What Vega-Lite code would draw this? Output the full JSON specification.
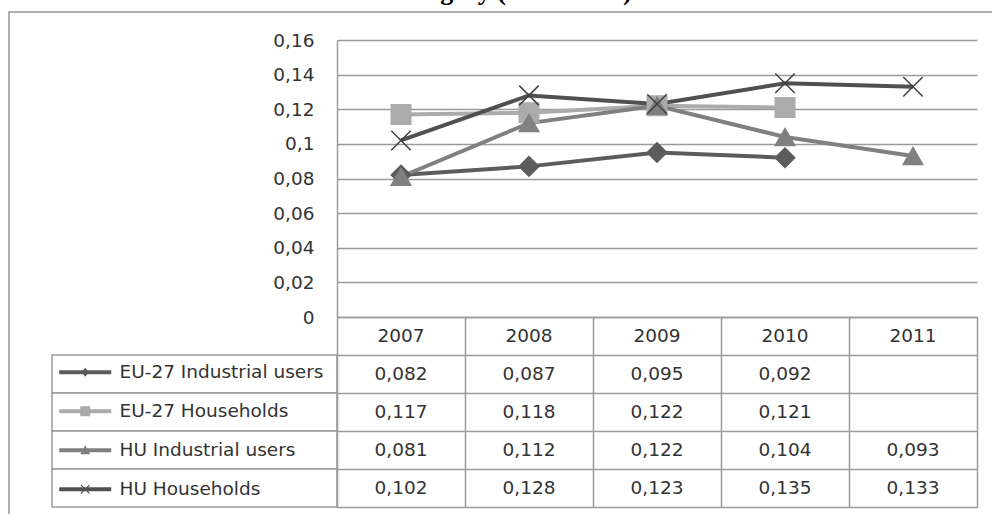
{
  "$schema": "https://vega.github.io/schema/vega-lite/v6.json",
  "padding": {"left": 9, "top": -21, "right": 0, "bottom": 0},
  "background": "white",
  "title": {
    "text": "Hungary (EUR/kWh)",
    "anchor": "start", "dx": 382, "offset": -14, "baseline": "alphabetic",
    "font": "Liberation Serif", "fontSize": 26, "fontWeight": "bold", "color": "#000000"
  },
  "config": {
    "locale": {"number": {"decimal": ",", "thousands": " ", "grouping": [3], "currency": ["", " €"]}},
    "font": "DejaVu Sans",
    "view": {"stroke": null}
  },
  "datasets": {
    "prices": [
      {"series": "EU-27 Industrial users", "year": 2007, "value": 0.082},
      {"series": "EU-27 Industrial users", "year": 2008, "value": 0.087},
      {"series": "EU-27 Industrial users", "year": 2009, "value": 0.095},
      {"series": "EU-27 Industrial users", "year": 2010, "value": 0.092},
      {"series": "EU-27 Households", "year": 2007, "value": 0.117},
      {"series": "EU-27 Households", "year": 2008, "value": 0.118},
      {"series": "EU-27 Households", "year": 2009, "value": 0.122},
      {"series": "EU-27 Households", "year": 2010, "value": 0.121},
      {"series": "HU Industrial users", "year": 2007, "value": 0.081},
      {"series": "HU Industrial users", "year": 2008, "value": 0.112},
      {"series": "HU Industrial users", "year": 2009, "value": 0.122},
      {"series": "HU Industrial users", "year": 2010, "value": 0.104},
      {"series": "HU Industrial users", "year": 2011, "value": 0.093},
      {"series": "HU Households", "year": 2007, "value": 0.102},
      {"series": "HU Households", "year": 2008, "value": 0.128},
      {"series": "HU Households", "year": 2009, "value": 0.123},
      {"series": "HU Households", "year": 2010, "value": 0.135},
      {"series": "HU Households", "year": 2011, "value": 0.133}
    ]
  },
  "columns": 2,
  "spacing": 0,
  "bounds": "flush",
  "align": "each",
  "resolve": {
    "scale": {"x": "independent", "y": "independent", "color": "independent", "shape": "independent", "stroke": "independent"},
    "legend": {"color": "independent", "shape": "independent", "stroke": "independent"}
  },
  "concat": [
    {
      "width": 285,
      "height": 277,
      "data": {"name": "prices"},
      "transform": [{"filter": "false"}],
      "mark": "point",
      "encoding": {
        "color": {
          "datum": 0, "type": "quantitative",
          "scale": {"domain": [0, 1], "range": ["rgba(255,255,255,0)", "rgba(255,255,255,0)"]},
          "legend": {
            "title": null, "orient": "none", "direction": "vertical",
            "legendX": -43, "legendY": -28, "padding": 0,
            "gradientThickness": 996, "gradientLength": 516,
            "gradientStrokeColor": "#8f8f8f", "gradientStrokeWidth": 2,
            "labelExpr": "''", "labelOpacity": 0, "labelFontSize": 1
          }
        }
      }
    },
    {
      "width": 640,
      "height": 277,
      "data": {"name": "prices"},
      "encoding": {
        "x": {"field": "year", "type": "ordinal", "axis": null, "scale": {"type": "point", "padding": 0.5}},
        "y": {
          "field": "value", "type": "quantitative",
          "scale": {"domain": [0, 0.16], "nice": false},
          "axis": {
            "title": null, "values": [0, 0.02, 0.04, 0.06, 0.08, 0.1, 0.12, 0.14, 0.16],
            "format": "~g", "ticks": false, "labelPadding": 23,
            "labelFont": "DejaVu Sans", "labelFontSize": 18.5, "labelColor": "#333333",
            "domainColor": "#9a9a9a", "domainWidth": 1.5,
            "grid": true, "gridColor": "#9a9a9a", "gridWidth": 1.5
          }
        },
        "color": {
          "field": "series", "type": "nominal",
          "scale": {
            "domain": ["EU-27 Industrial users", "EU-27 Households", "HU Industrial users", "HU Households"],
            "range": ["#5c5c5c", "#ababab", "#808080", "#505050"]
          },
          "legend": null
        }
      },
      "layer": [
        {"mark": {"type": "line", "strokeWidth": 4}},
        {
          "mark": {"type": "point", "filled": true, "opacity": 1, "size": 380, "strokeWidth": 1.5},
          "encoding": {
            "shape": {
              "field": "series", "type": "nominal",
              "scale": {
                "domain": ["EU-27 Industrial users", "EU-27 Households", "HU Industrial users", "HU Households"],
                "range": ["diamond", "square", "triangle-up", "M-1,-1L1,1M-1,1L1,-1"]
              },
              "legend": null
            },
            "stroke": {
              "field": "series", "type": "nominal",
              "scale": {
                "domain": ["EU-27 Industrial users", "EU-27 Households", "HU Industrial users", "HU Households"],
                "range": ["#5c5c5c", "#ababab", "#808080", "#404040"]
              },
              "legend": null
            }
          }
        }
      ]
    },
    {
      "width": 285,
      "height": 190,
      "data": {"name": "prices"},
      "layer": [
        {
          "transform": [{"aggregate": [{"op": "count", "as": "n"}], "groupby": ["series"]}],
          "mark": {"type": "rect", "fill": "white", "stroke": "#9a9a9a", "strokeWidth": 1.5},
          "encoding": {
            "y": {
              "field": "series", "type": "nominal",
              "scale": {"domain": ["Year", "EU-27 Industrial users", "EU-27 Households", "HU Industrial users", "HU Households"], "paddingInner": 0, "paddingOuter": 0},
              "axis": null
            }
          }
        },
        {
          "transform": [{"filter": "false"}],
          "mark": {"type": "point", "filled": true, "opacity": 1},
          "encoding": {
            "color": {
              "field": "series", "type": "nominal",
              "scale": {
                "domain": ["EU-27 Industrial users", "EU-27 Households", "HU Industrial users", "HU Households"],
                "range": ["#5c5c5c", "#ababab", "#808080", "#505050"]
              },
              "legend": {
                "title": null, "orient": "none", "legendX": 24, "legendY": 46,
                "padding": 0, "symbolSize": 100, "symbolStrokeWidth": 0,
                "labelOffset": 25, "rowPadding": 20, "labelLimit": 400,
                "labelFont": "DejaVu Sans", "labelFontSize": 18.5, "labelColor": "#333333"
              }
            },
            "shape": {
              "field": "series", "type": "nominal",
              "scale": {
                "domain": ["EU-27 Industrial users", "EU-27 Households", "HU Industrial users", "HU Households"],
                "range": [
                  "M-5.2,-0.4H5.2V0.4H-5.2ZM0,-0.9L0.75,0L0,0.9L-0.75,0Z",
                  "M-5.2,-0.4H5.2V0.4H-5.2ZM-1,-1H1V1H-1Z",
                  "M-5.2,-0.4H5.2V0.4H-5.2ZM0,-1L1,0.8H-1Z",
                  "M-5.2,-0.4H5.2V0.4H-5.2ZM-0.8,-0.95L0.95,0.8L0.8,0.95L-0.95,-0.8ZM0.95,-0.8L-0.8,0.95L-0.95,0.8L0.8,-0.95Z"
                ]
              }
            }
          }
        }
      ]
    },
    {
      "width": 640,
      "height": 190,
      "data": {"name": "prices"},
      "encoding": {
        "x": {
          "field": "year", "type": "ordinal",
          "scale": {"type": "band", "paddingInner": 0, "paddingOuter": 0},
          "axis": {"title": null, "labels": false, "ticks": false, "domain": false, "grid": true, "tickBand": "extent", "gridColor": "#9a9a9a", "gridWidth": 1.5}
        }
      },
      "layer": [
        {
          "mark": {"type": "text", "font": "DejaVu Sans", "fontSize": 18.5, "color": "#333333"},
          "encoding": {
            "y": {
              "field": "series", "type": "nominal",
              "scale": {"domain": ["Year", "EU-27 Industrial users", "EU-27 Households", "HU Industrial users", "HU Households"], "paddingInner": 0, "paddingOuter": 0},
              "axis": {"title": null, "labels": false, "ticks": false, "domain": false, "grid": true, "tickBand": "extent", "gridColor": "#9a9a9a", "gridWidth": 1.5}
            },
            "text": {"field": "value", "type": "quantitative", "format": ".3f"}
          }
        },
        {
          "transform": [{"filter": "datum.series === 'HU Households'"}],
          "mark": {"type": "text", "font": "DejaVu Sans", "fontSize": 18.5, "color": "#333333"},
          "encoding": {
            "y": {"datum": "Year", "type": "nominal"},
            "text": {"field": "year", "type": "ordinal"}
          }
        }
      ]
    }
  ]
}
